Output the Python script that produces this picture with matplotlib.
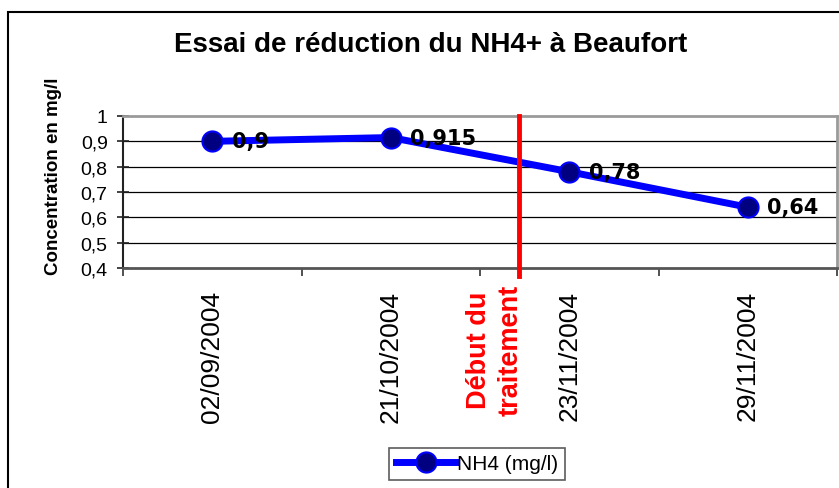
import matplotlib
matplotlib.use("Agg")
import matplotlib.pyplot as plt
from matplotlib.patches import Rectangle
from matplotlib.ticker import FixedLocator, NullFormatter

# ---- data ----
dates = ["02/09/2004", "21/10/2004", "23/11/2004", "29/11/2004"]
nh4 = [0.9, 0.915, 0.78, 0.64]
nh4_labels = ["0,9", "0,915", "0,78", "0,64"]
series_name = "NH4 (mg/l)"
y_ticks = [0.4, 0.5, 0.6, 0.7, 0.8, 0.9, 1.0]
y_tick_labels = ["0,4", "0,5", "0,6", "0,7", "0,8", "0,9", "1"]
title = "Essai de réduction du NH4+ à Beaufort"
ylabel = "Concentration en mg/l"
marker_text = "Début du\ntraitement"
marker_pos = 1.72  # position of treatment start between categories

W, H = 839, 489
fig = plt.figure(figsize=(W / 100, H / 100), dpi=100)
fig.patch.set_facecolor("white")

def fx(px):
    return px / W

def fy(py):
    return 1 - py / H

# outer chart border
fig.patches.append(Rectangle((fx(8), fy(540)), fx(860), (540 - 13) / H,
                             transform=fig.transFigure, fill=False,
                             edgecolor="black", linewidth=1.5, clip_on=False))

ax = fig.add_axes([fx(123), fy(269), fx(837 - 123), (269 - 117) / H])
x = list(range(len(dates)))

ax.set_xlim(-0.5, len(dates) - 0.5)
ax.set_ylim(0.4, 1.0)

for yv in y_ticks[1:-1]:
    ax.axhline(yv, color="black", linewidth=0.9, zorder=1)

ax.plot(x, nh4, color="#0000FF", linewidth=5, marker="o", markersize=14.5,
        markerfacecolor="#000080", markeredgecolor="#0000FF",
        markeredgewidth=1.5, zorder=3, label=series_name)

for xi, yi, lab in zip(x, nh4, nh4_labels):
    ax.annotate(lab, (xi, yi), xytext=(14, 0), textcoords="offset points",
                ha="left", va="center", fontsize=15, fontweight="bold",
                family="DejaVu Sans", color="black", zorder=4)

# treatment start line
ax.plot([marker_pos, marker_pos], [0.368, 1.0], color="#FF0000",
        linewidth=3.5, clip_on=False, zorder=5)
fig.text(fx(495), fy(350), marker_text, rotation=90, ha="center",
         va="center", color="#FF0000", fontsize=19.5, fontweight="bold",
         family="Liberation Sans", linespacing=1.3, multialignment="center")

# spines
for s in ["top", "right"]:
    ax.spines[s].set_color("#9a9a9a")
    ax.spines[s].set_linewidth(2)
ax.spines["left"].set_color("#222222")
ax.spines["left"].set_linewidth(1.5)
ax.spines["bottom"].set_color("#555555")
ax.spines["bottom"].set_linewidth(2)

# ticks
ax.set_yticks(y_ticks)
ax.set_yticklabels(y_tick_labels, fontsize=14, family="Liberation Sans")
ax.tick_params(axis="y", direction="inout", length=8, width=1.2,
               color="#222222", pad=7)
ax.set_xticks(x)
ax.set_xticklabels(dates, rotation=90, fontsize=19, family="Liberation Sans",
                   va="top", ha="center")
ax.tick_params(axis="x", which="major", length=0, pad=16)
ax.xaxis.set_minor_locator(FixedLocator([i - 0.5 for i in range(len(dates) + 1)]))
ax.xaxis.set_minor_formatter(NullFormatter())
ax.tick_params(axis="x", which="minor", direction="out", length=6,
               width=1.2, color="#333333")

fig.text(fx(431), fy(45), title, ha="center", va="center", fontsize=20,
         fontweight="bold", family="Liberation Sans")
fig.text(fx(53), fy(176), ylabel, rotation=90, ha="center", va="center",
         fontsize=13.5, fontweight="bold", family="Liberation Sans")

leg = fig.legend(loc="center", bbox_to_anchor=(fx(477), fy(465)),
                 prop={"family": "Liberation Sans", "size": 15},
                 handlelength=2.9, handletextpad=0.05, borderpad=0.3,
                 frameon=True, fancybox=False, borderaxespad=0)
leg.get_frame().set_edgecolor("#333333")
leg.get_frame().set_linewidth(1.2)

fig.savefig("out.png", dpi=100, facecolor="white")
